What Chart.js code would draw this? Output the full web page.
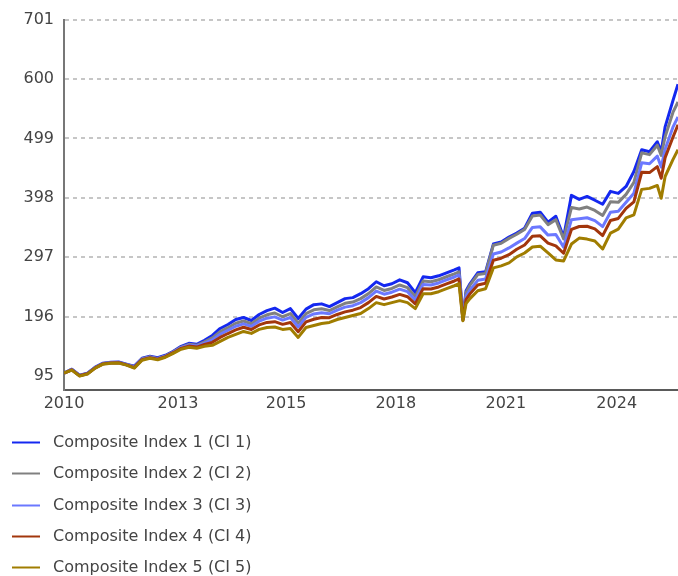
<!DOCTYPE html>
<html>
<head>
<meta charset="utf-8">
<script src="https://cdn.jsdelivr.net/npm/chart.js"></script>
<style>
  html, body { margin: 0; padding: 0; background: #fff; }
  canvas { display: block; }
</style>
</head>
<body>
<canvas id="chartIndex" width="678" height="576"></canvas>
<script>
// Tanggal dalam tahun pecahan (2010.0 = awal Jan 2010)
const dates = [
  2010.0, 2010.2, 2010.4, 2010.6, 2010.8, 2011.0, 2011.2, 2011.4, 2011.6, 2011.8,
  2012.0, 2012.2, 2012.4, 2012.6, 2012.8, 2013.0, 2013.2, 2013.4, 2013.6, 2013.8,
  2014.0, 2014.2, 2014.4, 2014.6, 2014.8, 2015.0, 2015.2, 2015.4, 2015.6, 2015.8,
  2016.0, 2016.2, 2016.4, 2016.6, 2016.8, 2017.0, 2017.2, 2017.4, 2017.6, 2017.8,
  2018.0, 2018.2, 2018.4, 2018.6, 2018.8, 2019.0, 2019.2, 2019.4, 2019.6, 2019.8,
  2020.0, 2020.12, 2020.22, 2020.3, 2020.4, 2020.6, 2020.8, 2021.0, 2021.2, 2021.4,
  2021.6, 2021.8, 2022.0, 2022.2, 2022.4, 2022.6, 2022.8, 2023.0, 2023.2, 2023.4,
  2023.6, 2023.8, 2024.0, 2024.2, 2024.4, 2024.6, 2024.8, 2025.0, 2025.2, 2025.3,
  2025.4, 2025.6, 2025.73
];

const ci1 = [
  100.0, 106.8, 96.7, 100.1, 110.2, 117.0, 118.6, 118.9, 115.3, 111.9,
  125.4, 128.8, 126.2, 130.5, 137.2, 145.6, 150.7, 149.0, 155.8, 164.2,
  176.0, 182.8, 191.2, 194.6, 189.5, 199.7, 206.4, 210.5, 203.1, 209.8,
  192.9, 208.9, 216.5, 217.8, 213.2, 219.9, 226.7, 228.4, 235.1, 243.6,
  255.4, 248.6, 252.0, 258.7, 253.7, 236.8, 263.8, 262.1, 265.5, 270.6,
  275.6, 279.0, 193.0, 240.2, 252.0, 270.6, 272.3, 319.5, 322.9, 331.3,
  338.1, 346.5, 371.8, 373.5, 356.7, 366.8, 331.3, 402.2, 395.4, 400.5,
  394.0, 387.1, 409.0, 405.6, 417.4, 442.7, 479.9, 476.5, 493.4, 476.5,
  518.7, 563.3, 591.3
];

const ci2 = [
  100.0, 106.3, 96.2, 99.6, 109.7, 116.5, 118.1, 118.3, 114.8, 110.9,
  124.4, 127.8, 125.2, 129.5, 136.2, 144.4, 149.0, 147.3, 153.2, 160.0,
  170.5, 177.3, 184.9, 188.7, 184.0, 193.4, 199.2, 202.3, 195.9, 201.4,
  184.9, 201.1, 207.7, 209.5, 206.4, 212.7, 218.7, 220.8, 226.7, 235.2,
  246.5, 240.6, 244.0, 249.9, 245.3, 230.0, 256.6, 255.4, 258.8, 263.9,
  268.9, 272.3, 192.0, 236.9, 249.5, 267.6, 269.4, 317.5, 320.9, 329.1,
  336.1, 344.4, 367.2, 368.9, 352.5, 360.9, 328.1, 381.5, 379.0, 382.4,
  376.7, 368.1, 391.3, 390.4, 404.0, 424.3, 474.5, 471.5, 487.5, 470.2,
  501.8, 543.2, 560.9
];

const ci3 = [
  100.0, 106.0, 95.9, 99.3, 109.4, 116.2, 117.8, 118.0, 114.5, 110.2,
  123.7, 127.1, 124.6, 128.8, 135.5, 143.4, 147.7, 146.0, 151.2, 156.6,
  166.1, 172.9, 179.8, 183.9, 179.6, 188.3, 193.5, 195.7, 190.2, 194.6,
  178.5, 194.9, 200.6, 202.8, 201.0, 207.0, 212.3, 214.7, 219.9, 228.4,
  239.4, 234.2, 237.6, 242.8, 238.5, 224.6, 250.9, 250.0, 253.4, 258.5,
  263.5, 266.9, 191.0, 231.0, 241.4, 257.8, 260.2, 302.5, 305.9, 312.9,
  321.1, 328.8, 347.7, 348.7, 334.7, 335.6, 314.3, 360.9, 362.5, 364.2,
  359.3, 349.1, 373.6, 375.2, 390.7, 405.9, 457.6, 455.9, 468.9, 450.3,
  480.7, 518.2, 535.6
];

const ci4 = [
  100.0, 105.6, 95.5, 98.9, 109.0, 115.8, 117.5, 117.6, 114.1, 109.5,
  123.0, 126.4, 123.9, 128.1, 134.8, 142.1, 146.0, 144.3, 148.7, 152.4,
  160.7, 167.4, 173.5, 178.0, 174.2, 182.0, 186.3, 187.5, 183.0, 186.1,
  170.4, 187.1, 191.7, 194.5, 194.3, 199.8, 204.2, 207.1, 211.5, 219.9,
  230.5, 226.1, 229.5, 233.9, 230.0, 217.9, 243.7, 243.2, 246.6, 251.7,
  256.7, 260.1, 190.0, 225.2, 234.8, 249.9, 252.8, 292.0, 295.4, 301.4,
  310.6, 317.8, 332.8, 333.4, 321.1, 316.3, 303.8, 344.3, 349.3, 349.7,
  345.4, 333.9, 359.4, 363.0, 380.0, 391.1, 441.4, 440.9, 451.0, 431.3,
  466.4, 501.1, 522.1
];

const ci5 = [
  100.0, 105.1, 95.0, 98.4, 108.5, 115.3, 117.0, 117.1, 113.6, 108.5,
  122.0, 125.4, 122.9, 127.1, 133.8, 140.6, 144.0, 142.3, 145.6, 147.3,
  154.1, 160.8, 165.9, 170.9, 167.6, 174.4, 177.7, 178.4, 174.4, 176.0,
  160.8, 177.7, 181.1, 184.5, 186.2, 191.2, 194.6, 198.0, 201.4, 209.8,
  219.9, 216.5, 219.9, 223.3, 219.9, 209.8, 235.1, 235.1, 238.5, 243.6,
  248.6, 252.0, 189.0, 218.2, 226.7, 240.2, 243.6, 279.0, 282.4, 287.4,
  297.6, 304.3, 314.5, 315.8, 304.3, 292.5, 290.8, 319.5, 329.6, 327.9,
  324.6, 311.1, 338.1, 344.8, 364.0, 369.0, 412.4, 414.1, 419.1, 397.2,
  434.3, 463.0, 479.8
];

const seriesNames = [
  'Composite Index 1 (CI 1)',
  'Composite Index 2 (CI 2)',
  'Composite Index 3 (CI 3)',
  'Composite Index 4 (CI 4)',
  'Composite Index 5 (CI 5)'
];
const seriesColors = ['#1428f0', '#808080', '#6b78ff', '#a2360c', '#a07d00'];

// Label sumbu
const yTicks = [95, 196, 297, 398, 499, 600, 701];
const xTickPos = [2010.0, 2012.92, 2015.69, 2018.5, 2021.32, 2024.16];
const xTickLabels = ['2010', '2013', '2015', '2018', '2021', '2024'];

const FONT = 'DejaVu Sans';
const TEXT_COLOR = '#444444';

// Legenda ditumpuk ke bawah, satu baris per seri
const stackLegend = {
  id: 'stackLegend',
  afterDraw(chart) {
    const ctx = chart.ctx;
    const top = chart.chartArea.bottom + 52;
    ctx.save();
    ctx.font = '16px "' + FONT + '"';
    ctx.textBaseline = 'middle';
    ctx.textAlign = 'left';
    chart.data.datasets.forEach((ds, i) => {
      const y = Math.round(top + i * 31.3) + 0.5;
      ctx.strokeStyle = ds.borderColor;
      ctx.lineWidth = 2;
      ctx.beginPath();
      ctx.moveTo(12, y);
      ctx.lineTo(40, y);
      ctx.stroke();
      ctx.fillStyle = TEXT_COLOR;
      ctx.fillText(ds.label, 53, y);
    });
    ctx.restore();
  }
};

const series = [ci1, ci2, ci3, ci4, ci5];

const ctx = document.getElementById('chartIndex').getContext('2d');
const myChart = new Chart(ctx, {
  type: 'line',
  data: {
    datasets: series.map((vals, i) => ({
      label: seriesNames[i],
      data: vals.map((v, j) => ({ x: dates[j], y: v })),
      borderColor: seriesColors[i],
      backgroundColor: seriesColors[i],
      borderWidth: 3,
      borderJoinStyle: 'round',
      pointRadius: 0,
      tension: 0,
      order: 4 - i // CI 5 digambar paling atas
    }))
  },
  options: {
    responsive: false,
    animation: false,
    layout: { padding: { top: 17, right: 0, bottom: 156, left: 0 } },
    plugins: {
      legend: { display: false },
      tooltip: { enabled: false }
    },
    scales: {
      x: {
        type: 'linear',
        min: 2010,
        max: 2025.73,
        grid: { display: false, drawTicks: false },
        border: { display: true, color: '#5a5a5a', width: 2 },
        afterBuildTicks: s => { s.ticks = xTickPos.map(v => ({ value: v })); },
        afterFit: s => { s.height = 30; },
        ticks: {
          autoSkip: false,
          maxRotation: 0,
          padding: 4,
          color: TEXT_COLOR,
          font: { family: FONT, size: 16 },
          callback: (v, i) => xTickLabels[i]
        }
      },
      y: {
        type: 'linear',
        min: 71.4,
        max: 701,
        afterBuildTicks: s => { s.ticks = yTicks.map(v => ({ value: v })); },
        afterFit: s => { s.width = 64; },
        grid: {
          drawTicks: false,
          lineWidth: 2,
          color: c => (c.tick && c.tick.value === 95) ? 'rgba(0,0,0,0)' : '#c6c6c6'
        },
        border: { display: true, color: '#777777', width: 2, dash: [4, 4] },
        ticks: {
          padding: 10,
          color: TEXT_COLOR,
          font: { family: FONT, size: 16 },
          callback: v => String(v)
        }
      }
    }
  },
  plugins: [stackLegend]
});
</script>
</body>
</html>
